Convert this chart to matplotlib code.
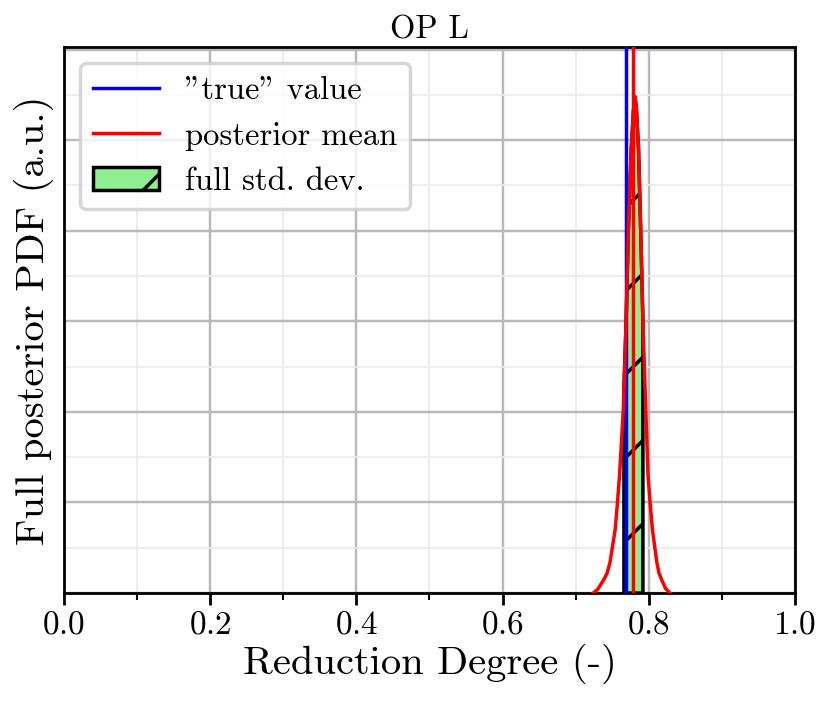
import numpy as np
import matplotlib
matplotlib.use("Agg")
from matplotlib import pyplot as plt

# Posterior PDF (arbitrary units, y ticks every 5)
x_pdf = np.array([0.724, 0.730, 0.738, 0.743, 0.747, 0.754, 0.757, 0.760, 0.765, 0.769,
                  0.772, 0.776, 0.779, 0.781, 0.783, 0.786, 0.789, 0.792, 0.796, 0.799,
                  0.802, 0.805, 0.811, 0.814, 0.818, 0.823, 0.829])
y_pdf = np.array([0.0, 0.2, 0.7, 1.1, 1.7, 3.5, 4.9, 6.5, 10.0, 15.0,
                  20.0, 24.5, 26.6, 27.4, 26.8, 24.5, 20.0, 15.0, 10.0, 6.5,
                  4.9, 3.5, 1.7, 1.1, 0.7, 0.25, 0.0])

true_value = 0.769
post_mean = 0.778
std_lo, std_hi = 0.766, 0.792

plt.rcParams['font.family'] = 'cmr10'
plt.rcParams['axes.formatter.use_mathtext'] = True

fig = plt.figure(figsize=(3.32, 2.804), dpi=250)
ax = fig.add_axes([0.0771, 0.154, 0.8807, 0.7789])

# shaded std. dev. region under the curve
inside = (x_pdf > std_lo) & (x_pdf < std_hi)
xb = np.concatenate([[std_lo], x_pdf[inside], [std_hi]])
yb = np.interp(xb, x_pdf, y_pdf)
band = ax.fill_between(xb, 0, yb, facecolor='lightgreen', edgecolor='black', hatch='/',
                       linewidth=1.0, label='full std. dev.', zorder=2)

l_true = ax.axvline(true_value, color='blue', lw=1.0, label='"true" value', zorder=3)
l_mean = ax.axvline(post_mean, color='red', lw=1.0, label='posterior mean', zorder=3)
ax.plot(x_pdf, y_pdf, color='red', lw=1.0, zorder=4)

ax.set_xlim(0, 1)
ax.set_ylim(0, 1.1 * y_pdf.max())
ax.set_xticks(np.arange(0, 1.01, 0.2))
ax.set_xticks(np.arange(0.1, 1.0, 0.2), minor=True)
ax.set_yticks(np.arange(0, 31, 5))
ax.set_yticks(np.arange(2.5, 31, 5), minor=True)
ax.set_yticklabels([])
ax.tick_params(axis='y', which='both', length=0)
ax.tick_params(axis='x', labelsize=9.6, pad=1.5)
ax.grid(True, which='major', color='0.72', lw=0.7)
ax.grid(True, which='minor', color='0.92', lw=0.5)
ax.set_axisbelow(True)

ax.set_xlabel('Reduction Degree (-)', fontsize=11.7)
ax.set_ylabel('Full posterior PDF (a.u.)', fontsize=11.7)
ax.xaxis.set_label_coords(0.5, -0.093)
ax.yaxis.set_label_coords(-0.013, 0.5)
ax.set_title('OP L', fontsize=9.4, pad=2.5)

ax.legend(handles=[l_true, l_mean, band], loc='upper left', fontsize=9.4)

fig.savefig('out.png', dpi=250)
